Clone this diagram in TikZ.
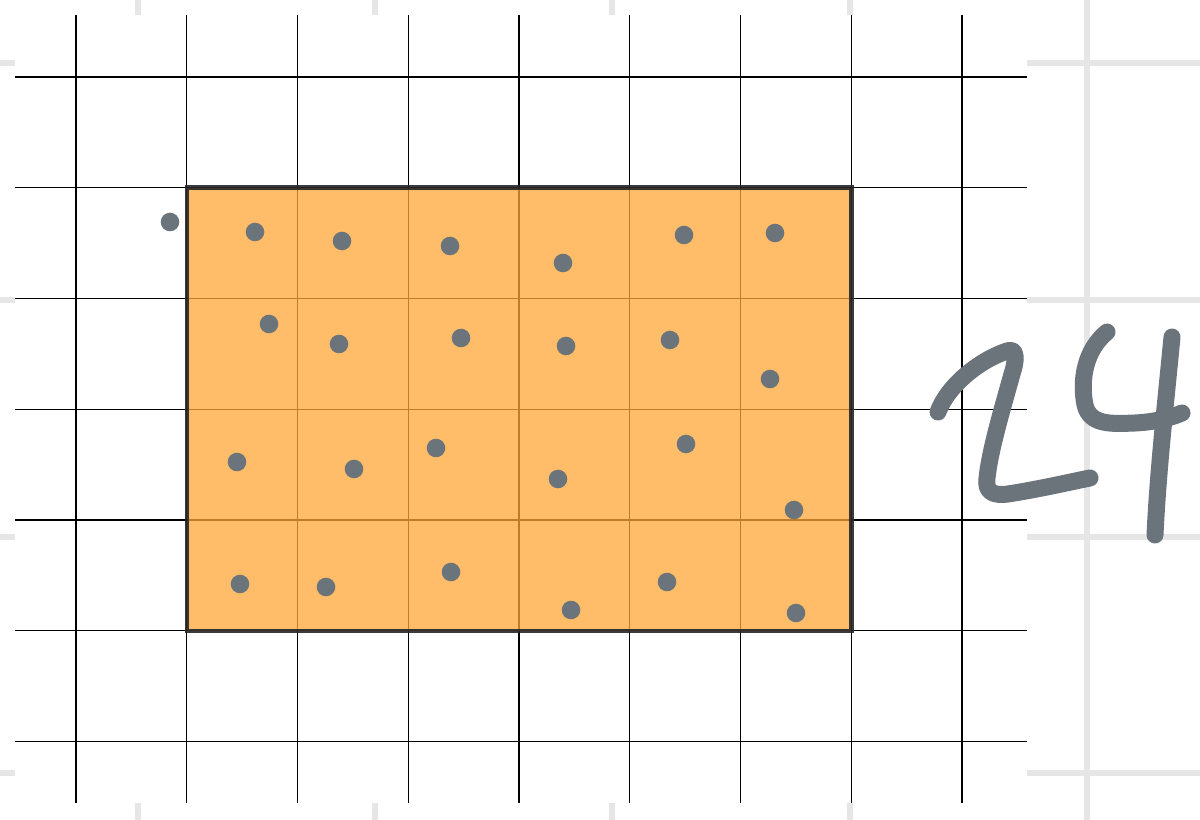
\documentclass[tikz,border=0pt]{standalone}
\usepackage{tikz}
\usetikzlibrary{calc}
\definecolor{dotgray}{HTML}{6B737B}
\definecolor{paperline}{HTML}{E6E6E6}
\definecolor{areaorange}{HTML}{FFA838}
\tikzset{
	dot/.style={fill=dotgray},
	gridline/.style={draw=black,line width=0.8pt},
	pen/.style={draw=dotgray,line width=0.34cm,line cap=round,line join=round}
}

\begin{document}
\begin{tikzpicture}[x=0.02cm,y=-0.02cm]
	\pgfmathsetmacro{\ul}{110.75};
	\useasboundingbox (0,0) rectangle (1200,820);
	\fill[white] (0,0) rectangle (1200,820);
	% paper behind
	\foreach \gx in {138,375,612,850,1087} \draw[paperline,line width=0.12cm] (\gx,0)--(\gx,820);
	\foreach \gy in {63,300,537,773} \draw[paperline,line width=0.12cm] (0,\gy)--(1200,\gy);
	\fill[white] (15,15) rectangle (1027,803);
	% square grid
	\foreach \i in {0,...,8} \draw[gridline] (76+\i*\ul,15)--(76+\i*\ul,803);
	\foreach \j in {0,...,6} \draw[gridline] (15,77+\j*\ul)--(1027,77+\j*\ul);
	% rectangle 6 by 4
	\fill[areaorange,fill opacity=0.75] (76+\ul,77+\ul) rectangle (76+7*\ul,77+5*\ul);
	\draw[black!85,line width=0.09cm,opacity=0.9] (76+\ul,77+\ul) rectangle (76+7*\ul,77+5*\ul);
	% dots
	\foreach \p in {(170,222),(255,232),(342,241),(450,246),(563,263),(684,235),(775,233),
		(269,324),(339,344),(461,338),(566,346),(670,340),(770,379),
		(237,462),(354,469),(436,448),(558,479),(686,444),(794,510),
		(240,584),(326,587),(451,572),(571,610),(667,582),(796,613)}
		\fill[dot] \p circle (9.3);
	% the count
	\draw[pen] (938,412) .. controls (948,385) and (980,360) .. (1007,351)
		.. controls (1018,347) and (1016,362) .. (1012,374)
		.. controls (1002,410) and (990,450) .. (987,478)
		.. controls (985,492) and (993,496) .. (1008,494)
		.. controls (1040,489) and (1070,482) .. (1090,478);
	\draw[pen] (1107,332) .. controls (1085,350) and (1080,380) .. (1085,405)
		.. controls (1090,425) and (1110,424) .. (1135,423)
		.. controls (1155,422) and (1170,418) .. (1182,413);
	\draw[pen] (1172,337) .. controls (1166,400) and (1158,470) .. (1155,535);
\end{tikzpicture}
\end{document}
